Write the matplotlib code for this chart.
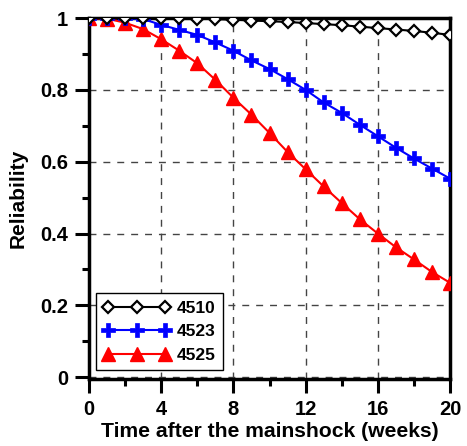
import matplotlib
matplotlib.use("Agg")
import matplotlib.pyplot as plt
from matplotlib.ticker import MultipleLocator

plt.rcParams['font.family'] = ['Liberation Sans', 'DejaVu Sans']
plt.rcParams['font.weight'] = 'bold'

weeks = list(range(0, 21))
r4510 = [1.0, 1.0, 1.0, 1.0, 1.0, 0.999, 0.998, 0.997, 0.995, 0.993, 0.991,
         0.989, 0.986, 0.983, 0.980, 0.976, 0.972, 0.968, 0.964, 0.959, 0.953]
r4523 = [1.0, 1.0, 1.0, 0.997, 0.981, 0.967, 0.953, 0.932, 0.909, 0.882, 0.858,
         0.830, 0.800, 0.765, 0.736, 0.703, 0.671, 0.639, 0.609, 0.581, 0.553]
r4525 = [1.0, 0.998, 0.987, 0.969, 0.941, 0.909, 0.874, 0.828, 0.778, 0.731, 0.680,
         0.627, 0.579, 0.531, 0.485, 0.440, 0.400, 0.362, 0.328, 0.293, 0.263]
labels = ['4510', '4523', '4525']
xticks = [0, 4, 8, 12, 16, 20]
yticks = [0, 0.2, 0.4, 0.6, 0.8, 1]
ytick_labels = ['0', '0.2', '0.4', '0.6', '0.8', '1']

fig = plt.figure(figsize=(4.67, 4.46), dpi=100)
ax = fig.add_axes([0.1906, 0.1502, 0.7730, 0.8094])

ax.plot(weeks, r4510, color='black', lw=1.5, marker='D', ms=6, mfc='white',
        mec='black', mew=1.6, label=labels[0], zorder=5)
ax.plot(weeks, r4523, color='blue', lw=1.5, marker='P', ms=10, mfc='blue',
        mec='blue', mew=0.5, label=labels[1], zorder=4)
ax.plot(weeks, r4525, color='red', lw=1.5, marker='^', ms=10, mfc='red',
        mec='red', label=labels[2], zorder=3)

ax.set_xlim(0, 20)
ax.set_ylim(-0.005, 1.0)
ax.set_xticks(xticks)
ax.set_yticks(yticks)
ax.set_yticklabels(ytick_labels)
ax.xaxis.set_minor_locator(MultipleLocator(2))
ax.yaxis.set_minor_locator(MultipleLocator(0.1))
ax.tick_params(which='major', direction='out', length=10, width=2.2, labelsize=14.5, pad=5)
ax.tick_params(which='minor', direction='out', length=5, width=2.2)
for lab in ax.get_xticklabels() + ax.get_yticklabels():
    lab.set_fontweight('bold')
for s in ax.spines.values():
    s.set_linewidth(2.5)
ax.grid(True, which='major', ls=(0, (5, 5)), color='#444444', lw=1.0)
ax.set_axisbelow(True)

ax.set_xlabel('Time after the mainshock (weeks)', fontsize=15.2, fontweight='bold', labelpad=2)
ax.set_ylabel('Reliability', fontsize=15, fontweight='bold', labelpad=9)

leg = ax.legend(loc='lower left', bbox_to_anchor=(0.005, 0.01), numpoints=3,
                handlelength=3.9, fontsize=12.5, frameon=True, fancybox=False,
                edgecolor='black', framealpha=1, borderpad=0.4, labelspacing=0.5,
                handletextpad=0.35, borderaxespad=0.3)
leg.get_frame().set_linewidth(1.0)
for t in leg.get_texts():
    t.set_fontweight('bold')

fig.savefig('out.png', dpi=100)
